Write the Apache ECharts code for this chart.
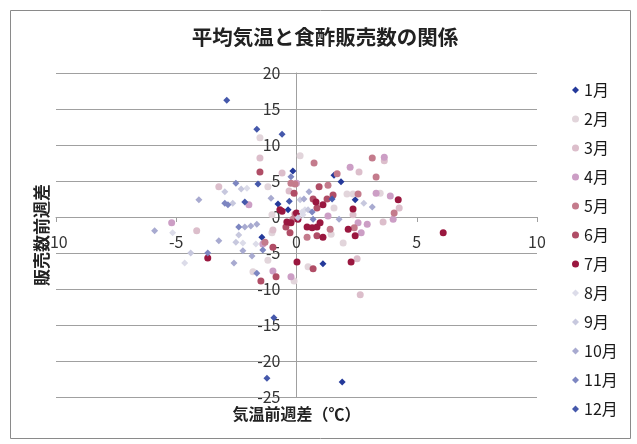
<!DOCTYPE html>
<html><head><meta charset="utf-8">
<script src="https://cdn.jsdelivr.net/npm/echarts@6/dist/echarts.min.js"></script>
<style>html,body{margin:0;padding:0;background:#fff}#c{width:637px;height:444px}</style>
</head><body><div id="c"></div>
<script>
const monthNames = ['1月','2月','3月','4月','5月','6月','7月','8月','9月','10月','11月','12月'];
const monthColors = ['#24399a','#e2d5db','#dcbecb','#cc9ec5','#c47b8c','#b04d66','#9a173f','#dcdce9','#c7c8de','#a8aad0','#7d86c1','#4558ab'];
const monthSymbols = ['diamond','circle','circle','circle','circle','circle','circle','diamond','diamond','diamond','diamond','diamond'];

const jan = [[-0.15,6.4],[-0.77,1.8],[1.85,4.9],[2.44,2.4],[1.1,-6.5],[-1.44,-2.8],[-0.35,1.0],[1.9,-22.9],[1.56,5.8]];
const feb = [[-1.52,11.0],[0.15,8.5],[-1.19,4.2],[-1.02,0.3],[2.1,3.2],[2.35,3.2],[3.48,3.3],[1.56,1.25],[1.44,-2.4],[1.94,-3.6],[0.48,-6.9],[-1.02,-2.2],[-1.81,-7.6],[-0.1,-8.9],[-1.19,-6.0]];
const mar = [[3.65,7.8],[2.6,6.25],[-4.15,-1.9],[-0.6,6.1],[-3.23,4.2],[-0.31,3.6],[-0.98,-1.8],[4.27,1.25],[3.6,-0.7],[2.35,0.3],[2.52,-5.8],[2.65,-10.8],[-1.52,8.2]];
const apr = [[3.65,8.3],[2.23,6.9],[3.31,3.3],[3.9,2.9],[4.02,-0.3],[1.31,0.15],[2.56,-0.8],[2.94,-1.0],[2.69,-2.2],[-5.19,-0.8],[-1.98,1.7],[-1.4,-3.75],[-0.98,-7.5],[-0.23,-8.3],[0.0,4.7]];
const may = [[0.73,7.5],[3.15,8.2],[3.31,5.55],[1.69,6.0],[-0.23,4.7],[-0.06,4.6],[1.31,4.4],[2.56,3.2],[4.06,0.55],[-0.15,-0.3],[-0.06,0.4],[2.4,-1.5],[1.4,-1.7],[0.44,-2.8],[-1.31,-3.5]];
const jun = [[-1.52,6.25],[0.94,4.2],[-0.1,3.3],[0.69,2.5],[1.27,2.5],[0.85,1.25],[-0.44,-1.4],[-0.27,-2.2],[-0.98,-4.2],[-0.85,-8.3],[-1.48,-8.9],[0.69,-7.2],[0.85,-2.6],[1.52,3.05]];
const jul = [[6.1,-2.2],[-3.69,-5.7],[0.02,-6.25],[2.27,-6.25],[0.81,2.1],[1.1,1.7],[4.23,2.4],[2.35,1.1],[0.0,0.55],[-0.6,0.8],[0.06,-0.3],[-0.4,-0.7],[0.44,-1.4],[0.65,-1.5],[0.85,-1.4],[0.98,-0.8],[2.15,-1.7],[2.44,-2.6],[1.1,-2.8],[-0.69,1.0],[-0.23,-0.8]];
const aug = [[-2.06,4.0],[-5.15,-2.2],[-4.65,-6.4],[-2.23,-3.6],[-1.69,-3.75],[0.35,1.0],[0.23,0.7],[0.27,0.3]];
const sep = [[-4.4,-5.0],[-2.98,3.5],[-2.3,3.9],[-2.52,-3.5],[-2.65,1.9],[0.15,2.4],[0.48,1.0],[2.8,1.9],[-2.4,-2.5],[0.06,-0.1]];
const oct = [[-4.06,2.4],[-5.9,-1.9],[-3.23,-3.3],[-2.6,-6.4],[-2.23,-4.7],[-1.85,-5.4],[-1.06,2.6],[0.52,3.5],[0.31,2.5],[3.15,1.4],[1.77,-0.3],[-2.15,-1.4],[-1.9,-1.25],[-1.65,-1.0]];
const nov = [[-2.52,4.7],[-0.23,5.6],[-2.98,1.9],[-2.85,1.7],[-3.69,-5.0],[-1.65,-7.8],[-2.4,-1.4],[0.69,-0.3],[0.65,0.7],[-1.4,-4.6]];
const dec = [[-2.9,16.2],[-1.65,12.2],[-0.6,11.5],[-1.6,4.6],[-2.15,2.1],[-0.3,2.2],[-0.94,-14.0],[-1.23,-22.4],[1.48,2.5]];
const monthData = [jan,feb,mar,apr,may,jun,jul,aug,sep,oct,nov,dec];

const xTicks = {min:-10, max:10, interval:5};
const yTicks = {min:-25, max:20, interval:5};

const FONT = '"Noto Sans CJK JP", "Noto Sans", sans-serif';
const GRID = {left:56, right:100, top:73, bottom:47};
const chart = echarts.init(document.getElementById('c'), null, {renderer:'canvas'});
const series = monthNames.map((n,i)=>({
  name:n, type:'scatter', data:monthData[i],
  symbol:monthSymbols[i], symbolSize:7,
  itemStyle:{color:monthColors[i], opacity:1},
  emphasis:{disabled:true}
}));
const option = {
  animation:false,
  backgroundColor:'#fff',
  textStyle:{fontFamily:FONT},
  title:{text:'平均気温と食酢販売数の関係', left:320, top:22, textAlign:'center',
    textStyle:{fontFamily:FONT, fontSize:20.5, fontWeight:'bold', color:'#222'}},
  legend:{orient:'vertical', left:567, top:77, itemWidth:7, itemHeight:7, itemGap:13,
    data:monthNames,
    textStyle:{fontFamily:FONT, fontSize:16, color:'#1a1a1a'}},
  grid:Object.assign({containLabel:false, outerBoundsMode:'none'}, GRID),
  xAxis:{type:'value', min:xTicks.min, max:xTicks.max, interval:xTicks.interval,
    position:'bottom', offset:0,
    name:'気温前週差（℃）', nameLocation:'middle', nameGap:189,
    nameTextStyle:{fontFamily:FONT, fontSize:16, fontWeight:'bold', color:'#222'},
    axisLine:{show:true, onZero:false, lineStyle:{color:'#a0a0a0'}},
    axisTick:{show:true, length:5, lineStyle:{color:'#a0a0a0'}},
    axisLabel:{margin:17, fontFamily:FONT, fontSize:16, color:'#333'},
    splitLine:{show:false}},
  yAxis:{type:'value', min:yTicks.min, max:yTicks.max, interval:yTicks.interval,
    position:'left', offset:0,
    name:'販売数前週差', nameLocation:'middle', nameGap:246,
    nameTextStyle:{fontFamily:FONT, fontSize:17, fontWeight:'bold', color:'#222'},
    axisLine:{show:true, onZero:false, lineStyle:{color:'#a0a0a0'}},
    axisTick:{show:false},
    axisLabel:{margin:16, fontFamily:FONT, fontSize:16, color:'#333'},
    splitLine:{show:true, lineStyle:{color:'#a0a0a0'}}},
  graphic:[{type:'rect', left:8, top:8, shape:{width:620, height:428}, style:{fill:'none', stroke:'#8a8a8a', lineWidth:1}, silent:true, z:-1}],
  series
};
chart.setOption(option);
// move both axes so that they cross at (0,0), as the reference does
const zero = chart.convertToPixel({gridIndex:0}, [0,0]);
const H = chart.getHeight();
chart.setOption({
  xAxis:{offset: zero[1] - (H - GRID.bottom)},
  yAxis:{offset: GRID.left - zero[0]}
});
</script></body></html>
